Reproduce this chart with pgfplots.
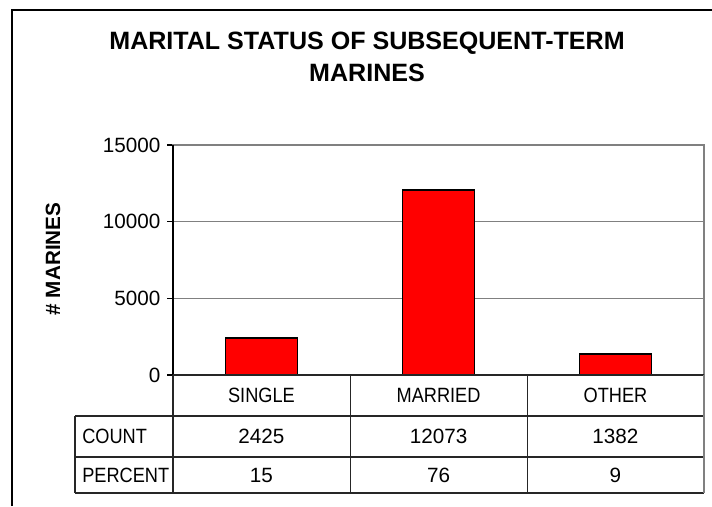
\documentclass[border=0pt]{standalone}
\usepackage{pgfplots}
\pgfplotsset{compat=1.18}
\usepackage{fontspec}
\setmainfont{Liberation Sans}
\newcommand{\tfont}{\fontsize{15.5}{18}\selectfont\addfontfeature{FakeStretch=0.88}}
\newcommand{\nfont}{\fontsize{15.5}{18}\selectfont}
\begin{document}
\begin{tikzpicture}
\begin{axis}[
  at={(129.75pt,-281.25pt)}, anchor=south west,
  scale only axis, width=398.25pt, height=172.5pt,
  xmin=-0.5, xmax=2.5, ymin=0, ymax=15000,
  xtick=\empty,
  ytick={0,5000,10000,15000},
  ytick pos=left,
  scaled y ticks=false,
  /pgf/number format/1000 sep={},
  /pgf/number format/assume math mode=true,
  yticklabel style={font=\fontsize{15.5}{18}\selectfont, xshift=-1.5pt},
  ymajorgrids, grid style={draw=black!50, line width=0.9pt},
  axis line style={draw=black!50, line width=0.9pt},
  tick align=outside, major tick length=4.5pt,
  ytick style={black, line width=0.8pt},
  ybar, bar width=54pt,
  clip=false,
]
\addplot[fill=red, draw=black, line width=1.1pt] coordinates {(0,2425) (1,12073) (2,1382)};
\draw[black, line width=0.9pt] (rel axis cs:0,0) -- (rel axis cs:0,1);
\end{axis}
% title
\node[align=center, font=\fontsize{18.8}{24}\selectfont\bfseries] at (275.25pt,-42.4pt) {MARITAL STATUS OF SUBSEQUENT-TERM\\MARINES};
% y label
\node[rotate=90, font=\fontsize{15.5}{18}\selectfont\bfseries] at (39.75pt,-194.25pt) {\# MARINES};
% table lines
\begin{scope}[line width=0.8pt, draw=black!85]
\draw (129.75pt,-281.25pt) -- (528pt,-281.25pt);
\draw (56.25pt,-312pt) -- (528pt,-312pt);
\draw (56.25pt,-342.75pt) -- (528pt,-342.75pt);
\draw (56.25pt,-369.75pt) -- (528pt,-369.75pt);
\draw (56.25pt,-312pt) -- (56.25pt,-369.75pt);
\draw (129.75pt,-281.25pt) -- (129.75pt,-369.75pt);
\draw (262.9pt,-281.25pt) -- (262.9pt,-369.75pt);
\draw (395.6pt,-281.25pt) -- (395.6pt,-369.75pt);
\draw[draw=black!50] (528pt,-281.25pt) -- (528pt,-369.75pt);
\end{scope}
% table text
\node[font=\tfont] at (196.1pt,-296.6pt) {SINGLE};
\node[font=\tfont] at (328.9pt,-296.6pt) {MARRIED};
\node[font=\tfont] at (461.6pt,-296.6pt) {OTHER};
\node[font=\tfont, anchor=west, inner sep=0pt] at (61.5pt,-327.4pt) {COUNT};
\node[font=\tfont, anchor=west, inner sep=0pt] at (61.5pt,-356.25pt) {PERCENT};
\node[font=\nfont] at (196.1pt,-327.4pt) {2425};
\node[font=\nfont] at (328.9pt,-327.4pt) {12073};
\node[font=\nfont] at (461.6pt,-327.4pt) {1382};
\node[font=\nfont] at (196.1pt,-356.25pt) {15};
\node[font=\nfont] at (328.9pt,-356.25pt) {76};
\node[font=\nfont] at (461.6pt,-356.25pt) {9};
% outer frame (partly outside the page)
\draw[black, line width=0.9pt] (9pt,-379.5pt) -- (9pt,-7.5pt) -- (534pt,-7.5pt);
\pgfresetboundingbox
\useasboundingbox (0,0) rectangle (534pt,-379.5pt);
\end{tikzpicture}
\end{document}
